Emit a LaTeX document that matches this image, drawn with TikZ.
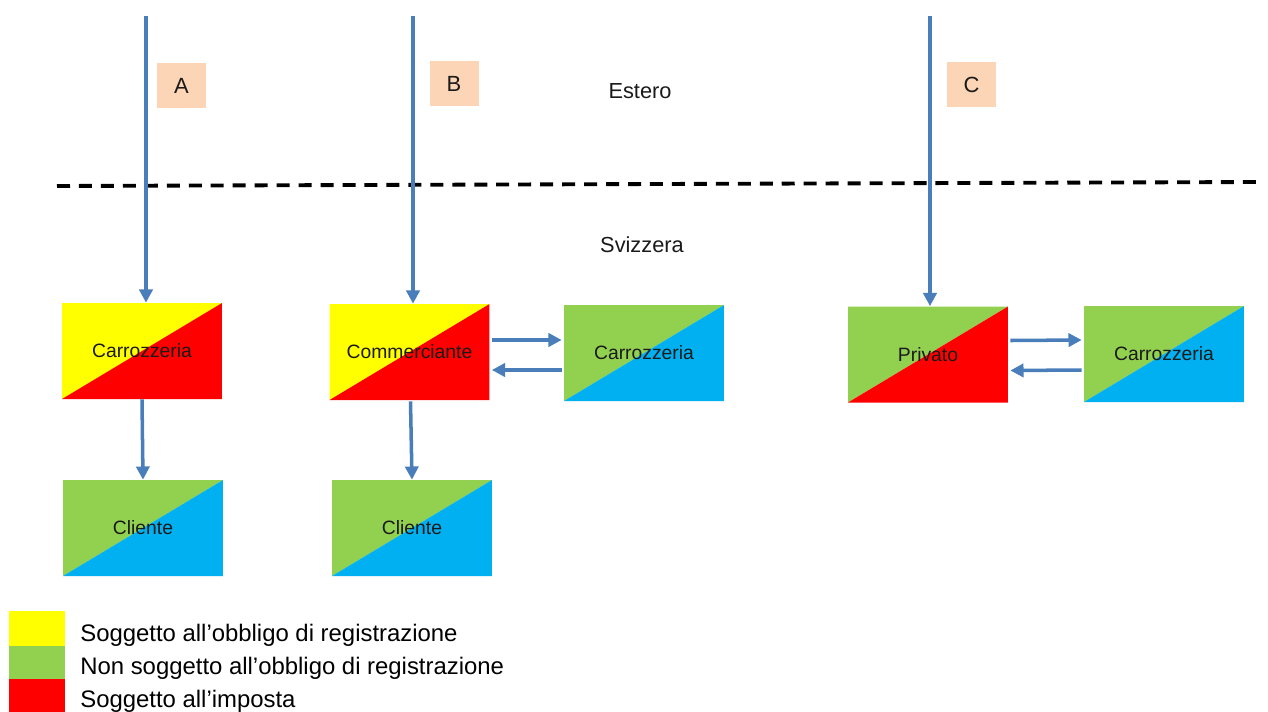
\documentclass[tikz,border=0pt]{standalone}
\usepackage{fontspec}
\setmainfont{Liberation Sans}
\usetikzlibrary{arrows.meta,calc}

\definecolor{flowBlue}{HTML}{4A7EBB}
\definecolor{regYellow}{HTML}{FFFF00}
\definecolor{noRegGreen}{HTML}{92D050}
\definecolor{taxRed}{HTML}{FF0000}
\definecolor{plainBlue}{HTML}{00B0F0}
\definecolor{tagPeach}{HTML}{FBD5B5}
\definecolor{inkGray}{HTML}{1A1A1A}

\tikzset{
	splitbox/.style 2 args={inner sep=0pt, fill=white,
		minimum width=3.2cm, minimum height=1.92cm,
		font=\fontsize{11}{13}\selectfont, text=inkGray,
		path picture={
			\fill[#1] (path picture bounding box.north west) -- (path picture bounding box.north east)
				-- (path picture bounding box.south west) -- cycle;
			\fill[#2] (path picture bounding box.south west) -- (path picture bounding box.north east)
				-- (path picture bounding box.south east) -- cycle;}},
	flow/.style={flowBlue, line width=2pt, -{Triangle[length=7.5pt,width=7.5pt]}},
	tag/.style={fill=tagPeach, inner sep=0pt, minimum width=0.98cm, minimum height=0.9cm,
		font=\fontsize{12.5}{14}\selectfont, text=inkGray},
	zone/.style={font=\fontsize{12.4}{14}\selectfont, text=inkGray},
	keybox/.style={fill=#1, inner sep=0pt, minimum width=1.12cm, minimum height=0.69cm},
	keytext/.style={anchor=west, inner sep=0pt, font=\fontsize{13.6}{15}\selectfont}
}

\begin{document}
\begin{tikzpicture}[x=0.02cm, y=-0.02cm]
	\useasboundingbox (0,0) rectangle (1268,711);

	% border between the two zones
	\coordinate (borderW) at (57,186);
	\coordinate (borderE) at (1258,182);
	\draw[black, line width=2.2pt, dash pattern=on 7.4pt off 5.1pt] (borderW) -- (borderE);
	\node[zone] (estero) at (640,91) {Estero};
	\node[zone] (svizzera) at (642,245) {Svizzera};

	% case boxes
	\node[splitbox={regYellow}{taxRed}] (carrA) at (142,351) {Carrozzeria};
	\node[splitbox={noRegGreen}{plainBlue}] (cliA) at (143,528) {Cliente};
	\node[splitbox={regYellow}{taxRed}] (comm) at (409.5,352) {Commerciante};
	\node[splitbox={noRegGreen}{plainBlue}] (carrB) at (644,353) {Carrozzeria};
	\node[splitbox={noRegGreen}{plainBlue}] (cliB) at (412,528) {Cliente};
	\node[splitbox={noRegGreen}{taxRed}] (priv) at (928,354.5) {Privato};
	\node[splitbox={noRegGreen}{plainBlue}] (carrC) at (1164,354) {Carrozzeria};

	% case letters
	\node[tag] (tagA) at (181.5,85.5) {A};
	\node[tag] (tagB) at (454,83.5) {B};
	\node[tag] (tagC) at (971.5,84.5) {C};

	% imports from abroad
	\coordinate (srcA) at (146,16);
	\coordinate (srcB) at (413,16);
	\coordinate (srcC) at (930,16);
	\draw[flow] (srcA) -- (srcA |- carrA.north);
	\draw[flow] (srcB) -- (srcB |- comm.north);
	\draw[flow] (srcC) -- (srcC |- priv.north);

	% deliveries in Switzerland
	\draw[flow] (carrA.south) -- (cliA.north);
	\draw[flow] ($(comm.south)+(1,1)$) -- (cliB.north);
	\draw[flow] ($(comm.east)+(2,-12)$) -- ($(carrB.west)+(-2,-13)$);
	\draw[flow] ($(carrB.west)+(-2,17)$) -- ($(comm.east)+(2,18)$);
	\draw[flow] ($(priv.east)+(2,-14)$) -- ($(carrC.west)+(-2,-14)$);
	\draw[flow] ($(carrC.west)+(-2,16)$) -- ($(priv.east)+(2,16)$);

	% legend
	\node[keybox=regYellow] (keyReg) at (37,628.5) {};
	\node[keybox=noRegGreen] (keyNoReg) at (37,663) {};
	\node[keybox=taxRed] (keyTax) at (37,696.5) {};
	\node[keytext] (txtReg) at (80,635) {Soggetto all’obbligo di registrazione};
	\node[keytext] (txtNoReg) at (80,668) {Non soggetto all’obbligo di registrazione};
	\node[keytext] (txtTax) at (80,701) {Soggetto all’imposta};
\end{tikzpicture}
\end{document}
